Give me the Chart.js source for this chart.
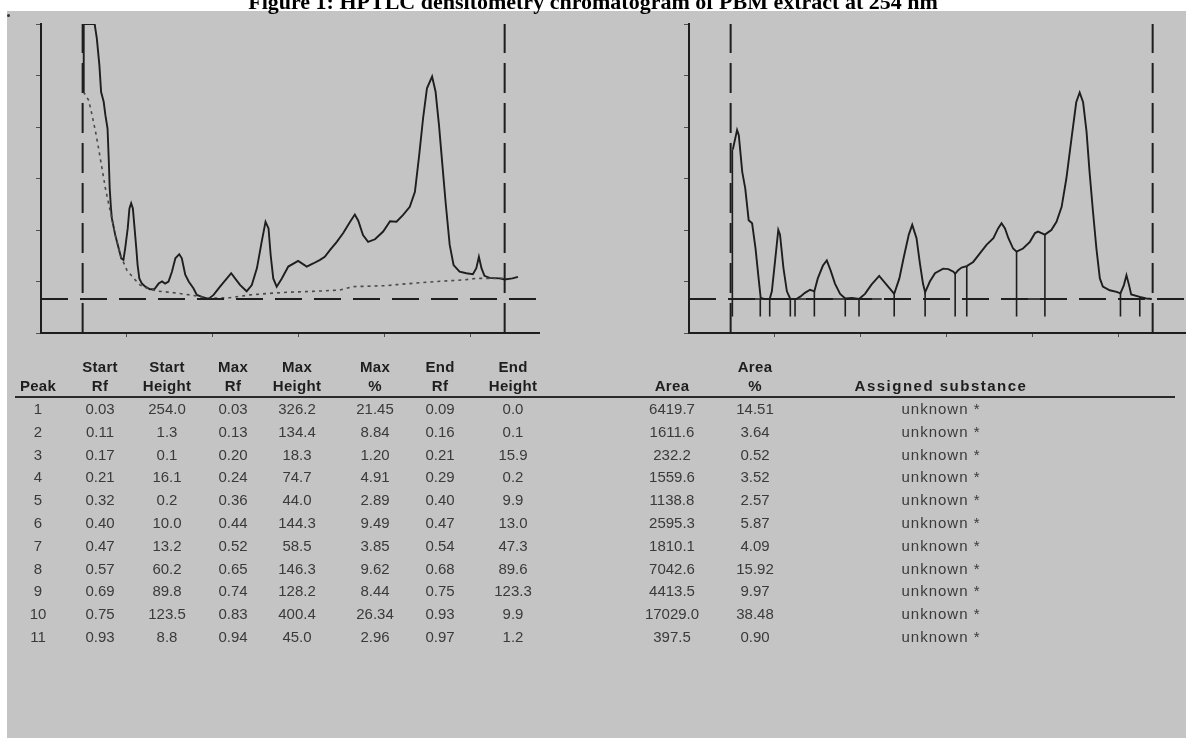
<!DOCTYPE html>
<html>
<head>
<meta charset="utf-8">
<script src="https://cdn.jsdelivr.net/npm/chart.js@4"></script>
<style>
  html, body { margin: 0; padding: 0; width: 1186px; height: 738px; overflow: hidden; background: #fff; }
  #panel { position: absolute; left: 7px; top: 11px; right: 0; bottom: 0; background: #c4c4c4; }
  #dot { position: absolute; left: 7px; top: 14px; width: 3px; height: 3px; border-radius: 2px; background: #333; }
  #title { position: absolute; left: 0; width: 1186px; top: -11px; text-align: center; z-index: 5;
           font: bold 22px "Liberation Serif", "Times New Roman", serif; color: #000; white-space: nowrap; }
  canvas { position: absolute; top: 0; }
  #tbl { position: absolute; left: 0; top: 0; width: 1186px; height: 738px; font-family: "Liberation Sans", Arial, sans-serif; }
  .c { position: absolute; transform: translateX(-50%); white-space: nowrap; font-size: 15px; line-height: 18px; color: #3a3a3a; }
  .h { font-weight: bold; color: #1e1e1e; letter-spacing: 0.3px; }
  .w { letter-spacing: 1px; }
  .h.w { letter-spacing: 1.5px; }
  #rule { position: absolute; left: 15px; width: 1160px; top: 396px; height: 2px; background: #2a2a2a; }
</style>
</head>
<body>
<div id="panel"></div>
<div id="dot"></div>
<div id="title">Figure 1: HPTLC densitometry chromatogram of PBM extract at 254 nm</div>
<canvas id="rawChart" width="565" height="345" style="left:0px"></canvas>
<canvas id="corrChart" width="580" height="345" style="left:640px"></canvas>
<div id="tbl"><div id="rule"></div></div>

<script>
// ---- scan data (x = Rf, y = AU, baseline = 0) ----
// left panel: raw scan
const rawRf = [0.019, 0.0195, 0.045, 0.050, 0.056, 0.060, 0.066, 0.070, 0.075, 0.078, 0.080, 0.083, 0.085, 0.093, 0.101, 0.107, 0.112,
  0.116, 0.122, 0.126, 0.130, 0.134, 0.138, 0.142, 0.145, 0.149, 0.155, 0.163, 0.174, 0.184, 0.194, 0.202, 0.209, 0.217, 0.225,
  0.233, 0.242, 0.248, 0.256, 0.264, 0.275, 0.283, 0.295, 0.310, 0.322, 0.337, 0.353, 0.363, 0.372, 0.384, 0.399, 0.411, 0.423,
  0.434, 0.443, 0.450, 0.455, 0.461, 0.469, 0.481, 0.496, 0.519, 0.539, 0.554, 0.570, 0.581, 0.593, 0.609, 0.624, 0.640, 0.651,
  0.659, 0.670, 0.682, 0.698, 0.717, 0.733, 0.748, 0.763, 0.779, 0.791, 0.801, 0.810, 0.819, 0.831, 0.839, 0.847, 0.855, 0.863,
  0.872, 0.881, 0.895, 0.911, 0.926, 0.934, 0.940, 0.946, 0.953, 0.965, 0.988, 1.000, 1.018, 1.031];
const rawAu = [402, 534, 534, 506, 454, 402, 383, 357, 331, 267, 215, 176, 157, 124, 98, 79, 76,
  98, 137, 176, 186, 176, 137, 98, 66, 40, 30, 24, 19, 19, 30, 34, 30, 34, 53,
  79, 87, 79, 47, 34, 21, 8, 4, 0, 8, 24, 40, 50, 40, 27, 15, 27, 60,
  111, 150, 137, 85, 40, 24, 40, 63, 74, 63, 69, 76, 82, 95, 111, 128, 150, 164,
  152, 124, 111, 116, 131, 151, 150, 163, 179, 208, 280, 351, 409, 432, 403, 338, 260, 183,
  105, 66, 53, 50, 48, 60, 82, 60, 45, 41, 40, 38, 40, 43];
// dotted baseline under the raw scan
const baseRf = [0.019, 0.031, 0.039, 0.047, 0.054, 0.062, 0.070, 0.078, 0.085, 0.093, 0.105, 0.120, 0.136, 0.151, 0.167, 0.190,
  0.221, 0.267, 0.310, 0.360, 0.407, 0.453, 0.492, 0.570, 0.616, 0.647, 0.725, 0.748, 0.841, 0.903, 0.934, 0.998];
const baseAu = [402, 386, 357, 325, 293, 254, 215, 183, 157, 124, 85, 56, 40, 27, 21, 15.5,
  13, 8, 1.5, 2.5, 8, 11, 13, 15.5, 17.5, 24, 26, 28, 34, 37, 40, 40];

// right panel: baseline corrected scan
const corrRf = [0.022, 0.032, 0.036, 0.044, 0.051, 0.059, 0.067, 0.075, 0.082, 0.087, 0.095, 0.108, 0.113, 0.120, 0.128, 0.132,
  0.140, 0.148, 0.156, 0.170, 0.180, 0.190, 0.202, 0.212, 0.220, 0.232, 0.241, 0.250, 0.260, 0.272, 0.284, 0.300, 0.316, 0.330,
  0.345, 0.363, 0.380, 0.398, 0.410, 0.420, 0.432, 0.440, 0.450, 0.458, 0.465, 0.470, 0.481, 0.493, 0.512, 0.524, 0.536, 0.540,
  0.547, 0.555, 0.567, 0.582, 0.598, 0.613, 0.629, 0.640, 0.648, 0.656, 0.664, 0.675, 0.683, 0.698, 0.714, 0.726, 0.733, 0.741,
  0.749, 0.764, 0.776, 0.788, 0.799, 0.811, 0.822, 0.830, 0.838, 0.846, 0.853, 0.861, 0.869, 0.877, 0.884, 0.900, 0.916, 0.925,
  0.933, 0.939, 0.945, 0.950, 0.970, 0.985, 0.998];
const corrAu = [290, 328, 318, 247, 215, 153, 147, 98, 41, 2, 0, 0, 15, 70, 134, 125,
  60, 15, 0, 0, 5, 12, 18, 15, 40, 65, 75, 55, 30, 10, 1, 2, 0, 10,
  28, 45, 28, 10, 40, 80, 125, 144, 118, 68, 30, 13, 34, 50, 59, 58, 53, 49,
  56, 61, 64, 72, 89, 105, 118, 137, 147, 137, 118, 98, 92, 98, 111, 128, 131, 128,
  125, 134, 150, 179, 234, 312, 382, 401, 382, 325, 247, 170, 98, 40, 24, 17, 14, 11,
  27, 46, 27, 9, 4, 1, 0];
// peak borders (drop lines) in the corrected scan
const dropRf = [0.021, 0.086, 0.108, 0.156, 0.167, 0.212, 0.284, 0.316, 0.398, 0.470, 0.540, 0.567, 0.683, 0.749, 0.925, 0.970];
const dropTop = [290, 0, 0, 0, 0, 15, 1, 0, 10, 13, 49, 64, 92, 125, 11, 4];
const dropBottom = -34;
// integrated stretches of the baseline (drawn solid)
const solidFrom = [0.016, 0.683];
const solidTo = [0.369, 0.749];

// markers: application line and solvent front
const startLine = 0.017;
const frontLine = 1.0;

const xMin = -0.08, xMax = 1.08;
const yMin = -66, yMax = 534;
const xTicks = [0.12, 0.32, 0.52, 0.72, 0.92];
const yTicks = [-66, 34, 134, 234, 334, 434, 534];

// ---- peak table ----
const peakNo = [1, 2, 3, 4, 5, 6, 7, 8, 9, 10, 11];
const startRf = [0.03, 0.11, 0.17, 0.21, 0.32, 0.40, 0.47, 0.57, 0.69, 0.75, 0.93];
const startHeight = [254.0, 1.3, 0.1, 16.1, 0.2, 10.0, 13.2, 60.2, 89.8, 123.5, 8.8];
const maxRf = [0.03, 0.13, 0.20, 0.24, 0.36, 0.44, 0.52, 0.65, 0.74, 0.83, 0.94];
const maxHeight = [326.2, 134.4, 18.3, 74.7, 44.0, 144.3, 58.5, 146.3, 128.2, 400.4, 45.0];
const maxPct = [21.45, 8.84, 1.20, 4.91, 2.89, 9.49, 3.85, 9.62, 8.44, 26.34, 2.96];
const endRf = [0.09, 0.16, 0.21, 0.29, 0.40, 0.47, 0.54, 0.68, 0.75, 0.93, 0.97];
const endHeight = [0.0, 0.1, 15.9, 0.2, 9.9, 13.0, 47.3, 89.6, 123.3, 9.9, 1.2];
const area = [6419.7, 1611.6, 232.2, 1559.6, 1138.8, 2595.3, 1810.1, 7042.6, 4413.5, 17029.0, 397.5];
const areaPct = [14.51, 3.64, 0.52, 3.52, 2.57, 5.87, 4.09, 15.92, 9.97, 38.48, 0.90];
const substance = peakNo.map(() => "unknown *");

const headTop = ["", "Start", "Start", "Max", "Max", "Max", "End", "End", "", "Area", ""];
const headBottom = ["Peak", "Rf", "Height", "Rf", "Height", "%", "Rf", "Height", "Area", "%", "Assigned substance"];

// column centres and row positions (layout only)
const colX = [38, 100, 167, 233, 297, 375, 440, 513, 672, 755, 941];
const headY = [358, 377];
const rowY0 = 400, rowStep = 22.8;

const INK = "#1e1e1e";

function pts(xs, ys) {
  return xs.map((x, i) => ({ x: x, y: ys[i] }));
}

function lineSet(data, opts) {
  return Object.assign({
    data: data, borderColor: INK, borderWidth: 1.9, pointRadius: 0, fill: false, tension: 0
  }, opts || {});
}

function markerSets() {
  const dash = { borderWidth: 2, borderDash: [30, 10] };
  return [
    lineSet(pts([xMin, xMax], [0, 0]), { borderWidth: 1.8, borderDash: [27, 12] }),
    lineSet(pts([startLine, startLine], [yMin, yMax]), dash),
    lineSet(pts([frontLine, frontLine], [yMin, yMax]), dash)
  ];
}

function scales() {
  const grid = { drawOnChartArea: false, drawTicks: true, color: "#505050", lineWidth: 1 };
  return {
    x: {
      type: "linear", min: xMin, max: xMax,
      afterBuildTicks: s => { s.ticks = xTicks.map(v => ({ value: v })); },
      ticks: { display: false },
      grid: Object.assign({ tickLength: 4 }, grid),
      border: { color: INK, width: 2 }
    },
    y: {
      type: "linear", min: yMin, max: yMax,
      afterBuildTicks: s => { s.ticks = yTicks.map(v => ({ value: v })); },
      ticks: { display: false },
      grid: Object.assign({ tickLength: 5 }, grid),
      border: { color: INK, width: 2 }
    }
  };
}

function makeChart(id, datasets, padding) {
  return new Chart(document.getElementById(id), {
    type: "line",
    data: { datasets: datasets },
    options: {
      responsive: false,
      animation: false,
      devicePixelRatio: 1,
      layout: { padding: padding },
      plugins: { legend: { display: false }, tooltip: { enabled: false } },
      scales: scales()
    }
  });
}

// left: raw scan with dotted baseline
makeChart("rawChart", [
  ...markerSets(),
  lineSet(pts(baseRf, baseAu), { borderColor: "#4a4a4a", borderWidth: 1.6, borderDash: [3, 4] }),
  lineSet(pts(rawRf, rawAu))
], { left: 36, right: 26, top: 24, bottom: 8 });

// right: corrected scan with peak borders
const drops = dropRf.map((r, i) => lineSet(pts([r, r], [dropTop[i], dropBottom]), { borderWidth: 1.6 }));
const solids = solidFrom.map((a, i) => lineSet(pts([a, solidTo[i]], [0, 0]), { borderWidth: 1.6 }));
makeChart("corrChart", [
  ...markerSets(),
  ...solids,
  ...drops,
  lineSet(pts(corrRf, corrAu))
], { left: 44, right: 33, top: 24, bottom: 8 });

// peak table
const tbl = document.getElementById("tbl");
function cell(text, x, y, head, wide) {
  const d = document.createElement("div");
  d.className = "c" + (head ? " h" : "") + (wide ? " w" : "");
  d.style.left = x + "px";
  d.style.top = y + "px";
  d.textContent = text;
  tbl.appendChild(d);
}
const last = colX.length - 1;
headTop.forEach((t, i) => { if (t) cell(t, colX[i], headY[0], true, false); });
headBottom.forEach((t, i) => cell(t, colX[i], headY[1], true, i === last));

peakNo.forEach((p, r) => {
  const y = rowY0 + r * rowStep;
  const row = [
    String(p),
    startRf[r].toFixed(2), startHeight[r].toFixed(1),
    maxRf[r].toFixed(2), maxHeight[r].toFixed(1), maxPct[r].toFixed(2),
    endRf[r].toFixed(2), endHeight[r].toFixed(1),
    area[r].toFixed(1), areaPct[r].toFixed(2), substance[r]
  ];
  row.forEach((t, i) => cell(t, colX[i], y, false, i === last));
});
</script>
</body>
</html>
